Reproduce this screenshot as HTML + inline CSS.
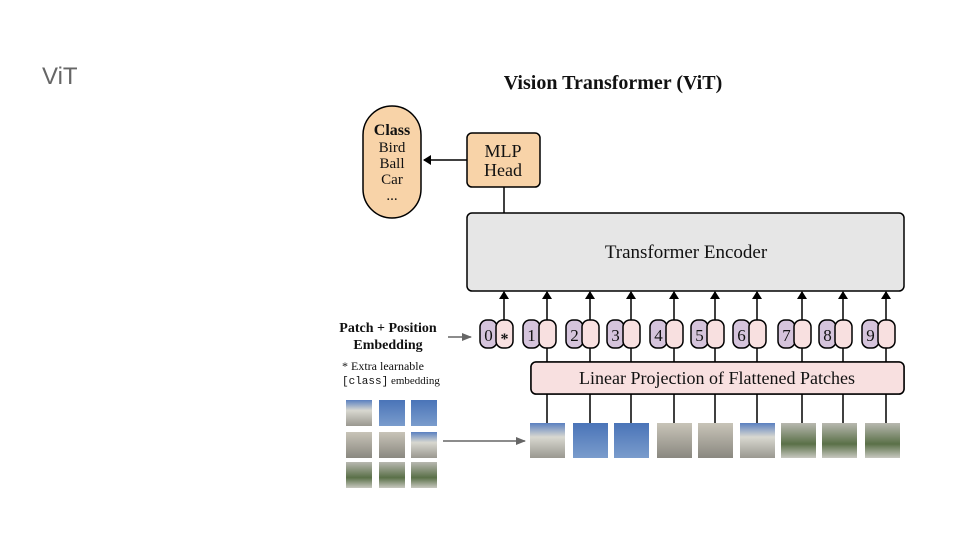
<!DOCTYPE html>
<html><head><meta charset="utf-8"><style>
body{margin:0;background:#fff;width:960px;height:540px;overflow:hidden}
svg{display:block}
text{font-family:"Liberation Serif",serif;fill:#111}
.p{fill:#d5c4dc;stroke:#000;stroke-width:1.5}
.k{fill:#f8e0e0;stroke:#000;stroke-width:1.5}
.l{stroke:#000;stroke-width:1.5}
.n{font-size:17px;text-anchor:middle}
</style></head><body>
<svg width="960" height="540" viewBox="0 0 960 540">
<defs>
<marker id="ah" markerWidth="8" markerHeight="10" refX="7" refY="5" orient="auto" markerUnits="userSpaceOnUse"><path d="M0,0 L8,5 L0,10 Z" fill="#000"/></marker>
<marker id="ag" markerWidth="10" markerHeight="8" refX="9" refY="4" orient="auto" markerUnits="userSpaceOnUse"><path d="M0,0 L10,4 L0,8 Z" fill="#666"/></marker>
<linearGradient id="sky" x1="0" y1="0" x2="0" y2="1"><stop offset="0" stop-color="#4a74b8"/><stop offset="1" stop-color="#7a9ccc"/></linearGradient>
<linearGradient id="bld" x1="0" y1="0" x2="0" y2="1"><stop offset="0" stop-color="#c8c4b8"/><stop offset="1" stop-color="#8a8880"/></linearGradient>
<linearGradient id="grn" x1="0" y1="0" x2="0" y2="1"><stop offset="0" stop-color="#b8b8b0"/><stop offset="0.6" stop-color="#5a7048"/><stop offset="1" stop-color="#c8c8c0"/></linearGradient>
<linearGradient id="mix" x1="0" y1="0" x2="0" y2="1"><stop offset="0" stop-color="#5a80c0"/><stop offset="0.4" stop-color="#d8d8d0"/><stop offset="1" stop-color="#9a9890"/></linearGradient>
</defs>
<text x="42" y="84" style="font-family:'Liberation Sans',sans-serif;font-size:24px;fill:#666">ViT</text>
<text x="613" y="89" text-anchor="middle" font-weight="bold" font-size="20">Vision Transformer (ViT)</text>

<rect x="363" y="106" width="58" height="112" rx="29" fill="#f8d3a8" stroke="#000" stroke-width="1.5"/>
<text x="392" y="135" text-anchor="middle" font-weight="bold" font-size="16">Class</text>
<text x="392" y="152" text-anchor="middle" font-size="15">Bird</text>
<text x="392" y="168" text-anchor="middle" font-size="15">Ball</text>
<text x="392" y="184" text-anchor="middle" font-size="15">Car</text>
<text x="392" y="200" text-anchor="middle" font-size="15">...</text>

<rect x="467" y="133" width="73" height="54" rx="5" fill="#f8d3a8" stroke="#000" stroke-width="1.5"/>
<text x="503" y="157" text-anchor="middle" font-size="18">MLP</text>
<text x="503" y="176" text-anchor="middle" font-size="18">Head</text>
<line x1="467" y1="160" x2="424" y2="160" class="l" marker-end="url(#ah)"/>
<line x1="504" y1="187" x2="504" y2="213" class="l"/>

<rect x="467" y="213" width="437" height="78" rx="5" fill="#e6e6e6" stroke="#000" stroke-width="1.5"/>
<text x="686" y="258" text-anchor="middle" font-size="19">Transformer Encoder</text>

<text x="388" y="332" text-anchor="middle" font-weight="bold" font-size="14">Patch + Position</text>
<text x="388" y="349" text-anchor="middle" font-weight="bold" font-size="14">Embedding</text>
<line x1="448" y1="337" x2="471" y2="337" stroke="#666" stroke-width="1.5" marker-end="url(#ag)"/>
<text x="342" y="370" font-size="12">* Extra learnable</text>
<text x="342" y="384" font-size="11"><tspan style="font-family:'Liberation Mono',monospace">[class]</tspan> embedding</text>

<rect x="531" y="362" width="373" height="32" rx="5" fill="#f8e0e0" stroke="#000" stroke-width="1.5"/>
<text x="717" y="384" text-anchor="middle" font-size="18">Linear Projection of Flattened Patches</text>

<!-- arrows up -->
<g class="l" marker-end="url(#ah)">
<line x1="504" y1="320" x2="504" y2="292" class="l" marker-end="url(#ah)"/>
<line x1="547" y1="320" x2="547" y2="292" class="l" marker-end="url(#ah)"/>
<line x1="590" y1="320" x2="590" y2="292" class="l" marker-end="url(#ah)"/>
<line x1="631" y1="320" x2="631" y2="292" class="l" marker-end="url(#ah)"/>
<line x1="674" y1="320" x2="674" y2="292" class="l" marker-end="url(#ah)"/>
<line x1="715" y1="320" x2="715" y2="292" class="l" marker-end="url(#ah)"/>
<line x1="757" y1="320" x2="757" y2="292" class="l" marker-end="url(#ah)"/>
<line x1="802" y1="320" x2="802" y2="292" class="l" marker-end="url(#ah)"/>
<line x1="843" y1="320" x2="843" y2="292" class="l" marker-end="url(#ah)"/>
<line x1="886" y1="320" x2="886" y2="292" class="l" marker-end="url(#ah)"/>
</g>
<!-- lines between tokens/projection/patches -->
<g class="l">
<line x1="547" y1="348" x2="547" y2="423"/><line x1="590" y1="348" x2="590" y2="423"/>
<line x1="631" y1="348" x2="631" y2="423"/><line x1="674" y1="348" x2="674" y2="423"/>
<line x1="715" y1="348" x2="715" y2="423"/><line x1="757" y1="348" x2="757" y2="423"/>
<line x1="802" y1="348" x2="802" y2="423"/><line x1="843" y1="348" x2="843" y2="423"/>
<line x1="886" y1="348" x2="886" y2="423"/>
</g>
<rect x="531" y="362" width="373" height="32" rx="5" fill="#f8e0e0" stroke="#000" stroke-width="1.5"/>
<text x="717" y="384" text-anchor="middle" font-size="18">Linear Projection of Flattened Patches</text>

<!-- tokens -->
<rect class="p" x="480" y="320" width="17" height="28" rx="7"/><rect class="k" x="496" y="320" width="17" height="28" rx="7"/>
<rect class="p" x="523" y="320" width="17" height="28" rx="7"/><rect class="k" x="539" y="320" width="17" height="28" rx="7"/>
<rect class="p" x="566" y="320" width="17" height="28" rx="7"/><rect class="k" x="582" y="320" width="17" height="28" rx="7"/>
<rect class="p" x="607" y="320" width="17" height="28" rx="7"/><rect class="k" x="623" y="320" width="17" height="28" rx="7"/>
<rect class="p" x="650" y="320" width="17" height="28" rx="7"/><rect class="k" x="666" y="320" width="17" height="28" rx="7"/>
<rect class="p" x="691" y="320" width="17" height="28" rx="7"/><rect class="k" x="707" y="320" width="17" height="28" rx="7"/>
<rect class="p" x="733" y="320" width="17" height="28" rx="7"/><rect class="k" x="749" y="320" width="17" height="28" rx="7"/>
<rect class="p" x="778" y="320" width="17" height="28" rx="7"/><rect class="k" x="794" y="320" width="17" height="28" rx="7"/>
<rect class="p" x="819" y="320" width="17" height="28" rx="7"/><rect class="k" x="835" y="320" width="17" height="28" rx="7"/>
<rect class="p" x="862" y="320" width="17" height="28" rx="7"/><rect class="k" x="878" y="320" width="17" height="28" rx="7"/>
<text class="n" x="488.5" y="341">0</text><text x="504.5" y="344" text-anchor="middle" font-size="16" font-weight="bold">*</text>
<text class="n" x="531.5" y="341">1</text><text class="n" x="574.5" y="341">2</text>
<text class="n" x="615.5" y="341">3</text><text class="n" x="658.5" y="341">4</text>
<text class="n" x="699.5" y="341">5</text><text class="n" x="741.5" y="341">6</text>
<text class="n" x="786.5" y="341">7</text><text class="n" x="827.5" y="341">8</text>
<text class="n" x="870.5" y="341">9</text>

<!-- patches -->
<rect x="530" y="423" width="35" height="35" fill="url(#mix)"/>
<rect x="573" y="423" width="35" height="35" fill="url(#sky)"/>
<rect x="614" y="423" width="35" height="35" fill="url(#sky)"/>
<rect x="657" y="423" width="35" height="35" fill="url(#bld)"/>
<rect x="698" y="423" width="35" height="35" fill="url(#bld)"/>
<rect x="740" y="423" width="35" height="35" fill="url(#mix)"/>
<rect x="781" y="423" width="35" height="35" fill="url(#grn)"/>
<rect x="822" y="423" width="35" height="35" fill="url(#grn)"/>
<rect x="865" y="423" width="35" height="35" fill="url(#grn)"/>

<rect x="346" y="400" width="26" height="26" fill="url(#mix)"/>
<rect x="379" y="400" width="26" height="26" fill="url(#sky)"/>
<rect x="411" y="400" width="26" height="26" fill="url(#sky)"/>
<rect x="346" y="432" width="26" height="26" fill="url(#bld)"/>
<rect x="379" y="432" width="26" height="26" fill="url(#bld)"/>
<rect x="411" y="432" width="26" height="26" fill="url(#mix)"/>
<rect x="346" y="462" width="26" height="26" fill="url(#grn)"/>
<rect x="379" y="462" width="26" height="26" fill="url(#grn)"/>
<rect x="411" y="462" width="26" height="26" fill="url(#grn)"/>
<line x1="443" y1="441" x2="525" y2="441" stroke="#666" stroke-width="1.5" marker-end="url(#ag)"/>
</svg>
</body></html>
